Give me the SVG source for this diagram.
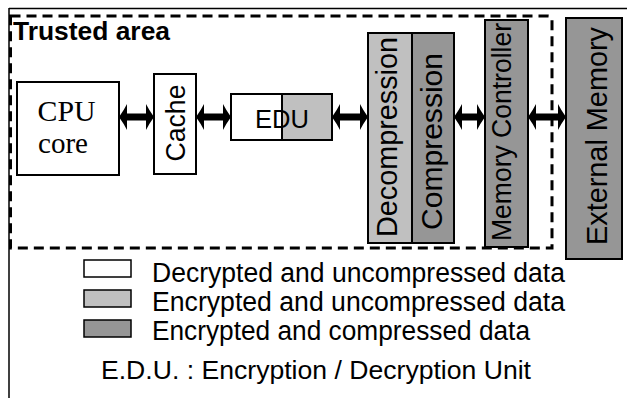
<svg xmlns="http://www.w3.org/2000/svg" width="627" height="398" viewBox="0 0 627 398">
<style>
.box{stroke:#000;stroke-width:2}
.w{fill:#fff}
.l{fill:#c0c0c0}
.d{fill:#969696}
.sans{font-family:"Liberation Sans",Arial,sans-serif;fill:#000}
.serif{font-family:"Liberation Serif","Times New Roman",serif;fill:#000}
.arr{fill:#000}
</style>
<rect width="627" height="398" fill="#fff"/>
<g id="frame">
<line x1="9" y1="8.5" x2="627" y2="8.5" stroke="#000" stroke-width="1.5"/>
<line x1="9" y1="8" x2="9" y2="398" stroke="#000" stroke-width="1.5"/>
</g>
<g id="trusted-area">
<path d="M10.5,16 H548 Q552,16 552,20 V248 H10.5 Z" fill="none" stroke="#000" stroke-width="3" stroke-dasharray="10 6"/>
<text class="sans" x="13" y="40" font-size="25" font-weight="bold" textLength="157" lengthAdjust="spacingAndGlyphs">Trusted area</text>
</g>
<g id="cpu">
<rect class="box w" x="17" y="82" width="102" height="93"/>
<text class="serif" x="66.5" y="121" font-size="29" text-anchor="middle" textLength="58" lengthAdjust="spacingAndGlyphs">CPU</text>
<text class="serif" x="63" y="153" font-size="29" text-anchor="middle" textLength="50" lengthAdjust="spacingAndGlyphs">core</text>
</g>
<g id="cache">
<rect class="box w" x="154" y="74" width="42" height="100"/>
<text class="sans" transform="translate(185,123) rotate(-90)" font-size="27" text-anchor="middle" textLength="77" lengthAdjust="spacingAndGlyphs">Cache</text>
</g>
<g id="edu">
<rect class="w" x="231" y="94" width="51" height="46"/>
<rect class="l" x="282" y="94" width="50" height="46"/>
<line x1="282" y1="94" x2="282" y2="140" stroke="#000" stroke-width="2"/>
<rect x="231" y="94" width="101" height="46" fill="none" stroke="#000" stroke-width="2"/>
<text class="sans" x="282" y="128" font-size="26" text-anchor="middle" textLength="54" lengthAdjust="spacingAndGlyphs">EDU</text>
</g>
<g id="decompression">
<rect class="box l" x="368" y="33" width="44" height="210"/>
<text class="sans" transform="translate(397,137) rotate(-90)" font-size="29" text-anchor="middle" textLength="200" lengthAdjust="spacingAndGlyphs">Decompression</text>
</g>
<g id="compression">
<rect class="box d" x="412" y="33" width="42" height="210"/>
<text class="sans" transform="translate(442,141.5) rotate(-90)" font-size="29" text-anchor="middle" textLength="177" lengthAdjust="spacingAndGlyphs">Compression</text>
</g>
<g id="memory-controller">
<rect class="box d" x="485" y="20" width="43" height="227"/>
<text class="sans" transform="translate(511,132) rotate(-90)" font-size="27" text-anchor="middle" textLength="218" lengthAdjust="spacingAndGlyphs">Memory Controller</text>
</g>
<g id="external-memory">
<rect class="box d" x="566" y="18" width="56" height="241"/>
<text class="sans" transform="translate(607,136) rotate(-90)" font-size="29" text-anchor="middle" textLength="218" lengthAdjust="spacingAndGlyphs">External Memory</text>
</g>
<g id="connectors" class="arr">
<path d="M119,117 Q124,110 127,104 L127,113.5 L146,113.5 L146,104 Q149,110 154,117 Q149,124 146,130 L146,120.5 L127,120.5 L127,130 Q124,124 119,117 Z"/>
<path d="M196,117 Q201,110 204,104 L204,113.5 L223,113.5 L223,104 Q226,110 231,117 Q226,124 223,130 L223,120.5 L204,120.5 L204,130 Q201,124 196,117 Z"/>
<path d="M332,117 Q337,110 340,104 L340,113.5 L360,113.5 L360,104 Q363,110 368,117 Q363,124 360,130 L360,120.5 L340,120.5 L340,130 Q337,124 332,117 Z"/>
<path d="M454,117 Q459,110 462,104 L462,113.5 L477,113.5 L477,104 Q480,110 485,117 Q480,124 477,130 L477,120.5 L462,120.5 L462,130 Q459,124 454,117 Z"/>
<path d="M528,117 Q533,110 536,104 L536,113.5 L558,113.5 L558,104 Q561,110 566,117 Q561,124 558,130 L558,120.5 L536,120.5 L536,130 Q533,124 528,117 Z"/>
</g>
<g id="legend">
<rect x="84" y="260" width="47" height="17" fill="#fff" stroke="#000" stroke-width="1.5"/>
<rect x="84" y="290" width="47" height="17" fill="#c0c0c0" stroke="#000" stroke-width="1.5"/>
<rect x="84" y="320" width="47" height="17" fill="#969696" stroke="#000" stroke-width="1.5"/>
<text class="sans" x="152" y="282" font-size="27" textLength="413" lengthAdjust="spacingAndGlyphs">Decrypted and uncompressed data</text>
<text class="sans" x="152" y="311" font-size="27" textLength="413" lengthAdjust="spacingAndGlyphs">Encrypted and uncompressed data</text>
<text class="sans" x="152" y="340" font-size="27" textLength="378" lengthAdjust="spacingAndGlyphs">Encrypted and compressed data</text>
<text class="sans" x="101" y="379" font-size="26" textLength="430" lengthAdjust="spacingAndGlyphs">E.D.U. : Encryption / Decryption Unit</text>
</g>
</svg>
